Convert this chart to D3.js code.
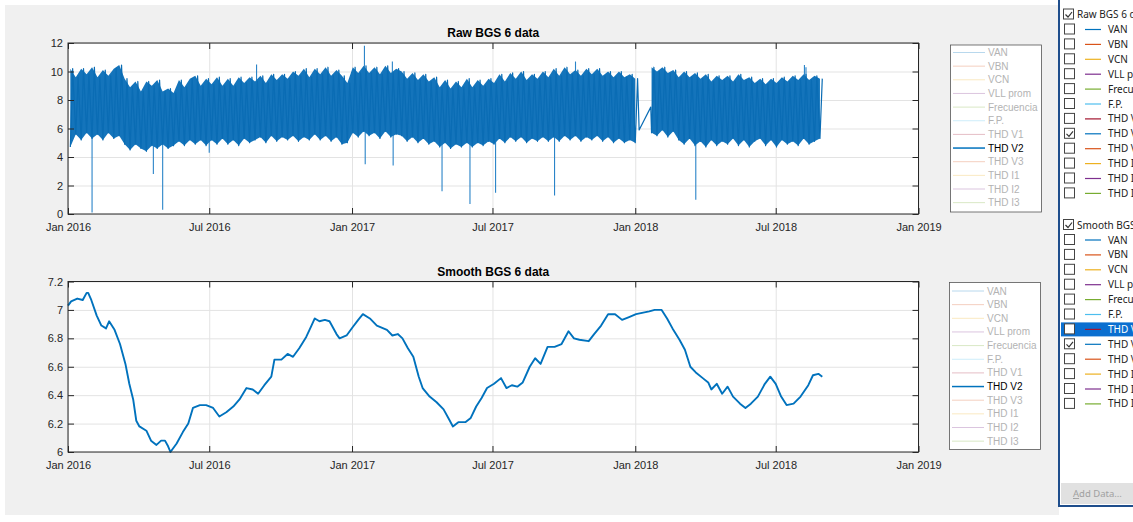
<!DOCTYPE html>
<html>
<head>
<meta charset="utf-8">
<script src="https://cdn.jsdelivr.net/npm/d3@7"></script>
<style>
  body { margin: 0; background: #fff; }
  svg { display: block; font-family: "Liberation Sans", Arial, sans-serif; }
  .grid line { stroke: #e3e3e3; }
  .grid path { display: none; }
  .ax path { display: none; }
  .ax line { stroke: #262626; }
  .ax text { fill: #262626; font-size: 11px; font-family: "Liberation Sans", Arial, sans-serif; }
</style>
</head>
<body>
<div id="chart"></div>
<script>
// ---- data ----
// raw THD V2: weekly trough (monday) and peak (thursday)
var rawLowA = [4.7, 5.6, 5.2, 5.7, 5.3, 5.6, 5.2, 5.7, 5.3, 5.5,
  4.9, 4.5, 4.9, 4.6, 4.4, 4.8, 4.6, 4.9, 4.6, 4.8,
  5.1, 4.8, 5.2, 4.9, 5.2, 4.8, 5.2, 4.9, 5.3, 4.9, 5.2, 4.8, 5.3, 5.0, 5.2,
  5.4, 5.0, 5.5, 5.1, 5.4, 5.2, 5.5, 5.1, 5.4, 5.2, 5.6, 5.2, 5.5, 5.1, 5.4,
  4.9, 5.0, 5.7, 5.4, 5.8, 5.5, 5.7, 5.3, 5.8, 5.4, 5.6,
  5.5, 5.1, 5.4, 5.0, 5.3, 4.9, 5.1, 4.7, 5.0, 4.6, 4.9, 4.7, 5.0,
  4.7, 5.0, 4.8, 5.1, 4.9, 5.3, 5.0, 5.4, 5.1, 5.4, 5.0, 5.3, 5.1, 5.4, 5.1,
  5.4, 5.1, 5.5, 5.2, 5.5, 5.1, 5.4, 5.2, 5.5, 5.1, 5.4, 5.0, 5.3, 5.0, 5.2, 5.0];
var rawHighA = [10.2, 9.6, 10.2, 9.8, 10.3, 9.6, 10.1, 9.7, 10.2, 10.45,
  9.5, 8.9, 9.3, 8.6, 9.3, 9.0, 9.4, 8.6, 8.8, 8.5,
  9.4, 8.9, 9.5, 9.7, 9.0, 9.5, 9.1, 9.6, 9.0, 9.5, 9.0, 9.6, 9.2, 9.6, 9.3,
  9.7, 9.2, 9.8, 9.4, 9.8, 9.5, 10.0, 9.7, 10.2, 9.6, 10.2, 9.8, 10.3, 9.7, 10.1,
  9.7, 9.2, 10.3, 9.9, 10.4, 9.9, 10.3, 9.8, 10.4, 9.9, 10.2,
  10.0, 9.5, 9.9, 9.4, 9.8, 9.3, 9.6, 8.9, 9.4, 8.8, 9.3, 8.9, 9.5,
  8.9, 9.4, 9.0, 9.5, 9.2, 9.8, 9.3, 9.9, 9.5, 10.0, 9.4, 9.8, 9.5, 10.0, 9.6,
  10.2, 9.7, 10.3, 9.8, 10.1, 9.7, 10.2, 9.8, 10.2, 9.7, 10.0, 9.6, 10.0, 9.6, 9.8, 9.5];
var rawLowB = [5.7, 5.5, 5.9, 5.4, 5.8, 5.2, 4.9, 5.3, 4.8, 5.1, 4.7, 5.2, 4.8, 5.1, 4.9, 5.3,
  4.8, 5.2, 4.7, 5.1, 5.3, 4.8, 5.2, 4.7, 5.2, 4.9, 5.1, 4.8, 5.3, 4.9, 5.1, 5.3];
var rawHighB = [10.3, 10.0, 10.3, 9.9, 10.1, 9.6, 10.0, 9.6, 9.9, 9.5, 9.8, 9.3, 9.7, 9.4, 9.7, 9.3,
  9.8, 9.4, 9.6, 9.2, 9.5, 9.1, 9.5, 9.2, 9.6, 9.3, 9.7, 9.4, 9.8, 9.4, 9.7, 9.5];
var rawGapDates = ['2018-01-06', '2018-01-21'];
var rawGapValues = [5.9, 7.5];
var rawSpikeDates = ['2016-02-01', '2016-04-20', '2016-05-02', '2016-07-01', '2016-08-31',
  '2017-01-17', '2017-01-18', '2017-02-22', '2017-02-23', '2017-04-27', '2017-06-02',
  '2017-07-05', '2017-09-19', '2017-10-16', '2018-03-20', '2018-08-07', '2018-08-09'];
var rawSpikeValues = [0.1, 2.8, 0.3, 4.3, 10.5, 11.8, 3.5, 10.7, 3.4, 1.6, 0.7, 1.5, 1.3, 10.7, 1.0, 10.45, 10.3];

// smoothed THD V2
var smoothDates = ['2016-01-01','2016-01-05','2016-01-13','2016-01-20','2016-01-25','2016-01-27','2016-01-31',
  '2016-02-07','2016-02-13','2016-02-19','2016-02-23','2016-03-01','2016-03-08','2016-03-15','2016-03-20',
  '2016-03-25','2016-03-29','2016-04-02','2016-04-11','2016-04-17','2016-04-24','2016-04-30','2016-05-05',
  '2016-05-09','2016-05-12','2016-05-20','2016-05-28','2016-06-04','2016-06-10','2016-06-19','2016-06-27',
  '2016-07-06','2016-07-14','2016-07-23','2016-08-01','2016-08-09','2016-08-18','2016-08-26','2016-09-02',
  '2016-09-10','2016-09-19','2016-09-23','2016-10-02','2016-10-10','2016-10-17','2016-10-25','2016-11-03',
  '2016-11-09','2016-11-14','2016-11-20','2016-11-27','2016-12-03','2016-12-12','2016-12-16','2016-12-25',
  '2017-01-02','2017-01-09','2017-01-15','2017-01-24','2017-02-02','2017-02-15','2017-02-22','2017-03-01',
  '2017-03-07','2017-03-14','2017-03-21','2017-03-28','2017-04-02','2017-04-11','2017-04-20','2017-04-29',
  '2017-05-06','2017-05-11','2017-05-18','2017-05-27','2017-06-03','2017-06-10','2017-06-17','2017-06-24',
  '2017-07-03','2017-07-12','2017-07-19','2017-07-26','2017-08-02','2017-08-09','2017-08-18','2017-08-25',
  '2017-09-01','2017-09-10','2017-09-19','2017-09-28','2017-10-07','2017-10-14','2017-10-21','2017-11-02',
  '2017-11-09','2017-11-18','2017-11-27','2017-12-06','2017-12-15','2017-12-24','2018-01-02','2018-01-19',
  '2018-01-26','2018-02-04','2018-02-11','2018-02-18','2018-02-27','2018-03-06','2018-03-13','2018-03-20',
  '2018-03-29','2018-04-05','2018-04-09','2018-04-16','2018-04-23','2018-04-30','2018-05-07','2018-05-16',
  '2018-05-23','2018-05-30','2018-06-08','2018-06-17','2018-06-24','2018-07-01','2018-07-08','2018-07-15',
  '2018-07-24','2018-08-02','2018-08-12','2018-08-18','2018-08-25','2018-08-30'];
var smoothValues = [7.03, 7.06, 7.08, 7.07, 7.12, 7.12, 7.07,
  6.96, 6.89, 6.87, 6.92, 6.86, 6.76, 6.62, 6.48,
  6.37, 6.22, 6.18, 6.15, 6.08, 6.05, 6.08, 6.08,
  6.04, 6.00, 6.06, 6.14, 6.20, 6.31, 6.33, 6.33,
  6.31, 6.25, 6.28, 6.32, 6.37, 6.45, 6.44, 6.41,
  6.47, 6.53, 6.65, 6.65, 6.69, 6.67, 6.73, 6.81,
  6.88, 6.94, 6.92, 6.93, 6.92, 6.83, 6.80, 6.82,
  6.88, 6.93, 6.97, 6.94, 6.89, 6.86, 6.82, 6.83,
  6.80, 6.73, 6.67, 6.53, 6.45, 6.39, 6.35, 6.30,
  6.23, 6.18, 6.21, 6.21, 6.24, 6.32, 6.38, 6.45,
  6.48, 6.52, 6.45, 6.47, 6.46, 6.49, 6.60, 6.66,
  6.62, 6.74, 6.74, 6.76, 6.85, 6.80, 6.79, 6.78,
  6.83, 6.89, 6.97, 6.97, 6.93, 6.95, 6.97, 6.99,
  7.00, 7.00, 6.94, 6.87, 6.79, 6.72, 6.60, 6.56,
  6.52, 6.49, 6.44, 6.48, 6.41, 6.46, 6.39, 6.34,
  6.31, 6.34, 6.39, 6.48, 6.53, 6.48, 6.39, 6.33,
  6.34, 6.39, 6.47, 6.54, 6.55, 6.53];

var rawTicks = [0, 2, 4, 6, 8, 10, 12];
var smoothTicks = [6, 6.2, 6.4, 6.6, 6.8, 7, 7.2];
var seriesNames = ['VAN', 'VBN', 'VCN', 'VLL prom', 'Frecuencia', 'F.P.', 'THD V1', 'THD V2', 'THD V3', 'THD I1', 'THD I2', 'THD I3'];
var seriesColors = ['#0072BD', '#D95319', '#EDB120', '#7E2F8E', '#77AC30', '#4DBEEE', '#A2142F', '#0072BD', '#D95319', '#EDB120', '#7E2F8E', '#77AC30'];
var shownIndex = 7; // only THD V2 is plotted

// ---- setup ----
var parse = d3.utcParse('%Y-%m-%d');
var xDomain = [parse('2016-01-01'), parse('2019-01-01')];
var xTicks = d3.utcMonth.every(6).range(xDomain[0], parse('2019-01-02'));
var left = 68, right = 918.5;

var svg = d3.select('#chart').append('svg').attr('width', 1133).attr('height', 522);
svg.append('rect').attr('x', 5).attr('y', 5).attr('width', 1054).attr('height', 510).attr('fill', '#f0f0f0');

function makeAxes(top, bottom, yDomain, yTicks, title) {
  var x = d3.scaleUtc().domain(xDomain).range([left, right]);
  var y = d3.scaleLinear().domain(yDomain).range([bottom, top]);
  var g = svg.append('g');
  g.append('rect').attr('x', left).attr('y', top).attr('width', right - left).attr('height', bottom - top).attr('fill', '#fff');
  g.append('g').attr('class', 'grid').attr('transform', 'translate(0,' + bottom + ')')
    .call(d3.axisBottom(x).tickValues(xTicks).tickSize(-(bottom - top)).tickFormat(''));
  g.append('g').attr('class', 'grid').attr('transform', 'translate(' + left + ',0)')
    .call(d3.axisLeft(y).tickValues(yTicks).tickSize(-(right - left)).tickFormat(''));
  svg.append('text').attr('x', (left + right) / 2).attr('y', top - 6).attr('text-anchor', 'middle')
    .attr('font-size', 12).attr('font-weight', 'bold').attr('fill', '#000').text(title);
  return { x: x, y: y, g: g, top: top, bottom: bottom, yTicks: yTicks };
}

function finishAxes(a) {
  var fmt = d3.utcFormat('%b %Y');
  svg.append('g').attr('class', 'ax').attr('transform', 'translate(0,' + a.bottom + ')')
    .call(d3.axisBottom(a.x).tickValues(xTicks).tickSizeInner(-6).tickSizeOuter(0).tickPadding(9).tickFormat(fmt));
  svg.append('g').attr('class', 'ax').attr('transform', 'translate(0,' + a.top + ')')
    .call(d3.axisTop(a.x).tickValues(xTicks).tickSizeInner(-6).tickSizeOuter(0).tickFormat(''));
  svg.append('g').attr('class', 'ax').attr('transform', 'translate(' + left + ',0)')
    .call(d3.axisLeft(a.y).tickValues(a.yTicks).tickSizeInner(-6).tickSizeOuter(0).tickPadding(5).tickFormat(d3.format('')));
  svg.append('g').attr('class', 'ax').attr('transform', 'translate(' + right + ',0)')
    .call(d3.axisRight(a.y).tickValues(a.yTicks).tickSizeInner(-6).tickSizeOuter(0).tickFormat(''));
  svg.append('rect').attr('x', left).attr('y', a.top).attr('width', right - left).attr('height', a.bottom - a.top)
    .attr('fill', 'none').attr('stroke', '#262626').attr('stroke-width', 1);
}

function legend(x0, y0, h, firstRow) {
  var lg = svg.append('g').attr('font-size', 10);
  lg.append('rect').attr('x', x0 + 0.5).attr('y', y0 + 0.5).attr('width', 91).attr('height', h)
    .attr('fill', '#fff').attr('stroke', '#555').attr('stroke-width', 0.8);
  seriesNames.forEach(function(n, i) {
    var yy = firstRow + i * 13.65;
    var on = i === shownIndex;
    var c = on ? seriesColors[i] : d3.interpolateRgb(seriesColors[i], '#fff')(0.72);
    lg.append('line').attr('x1', x0 + 3).attr('x2', x0 + 35).attr('y1', yy).attr('y2', yy)
      .attr('stroke', c).attr('stroke-width', on ? 1.5 : 1);
    lg.append('text').attr('x', x0 + 38).attr('y', yy + 3.5).attr('fill', on ? '#000' : '#b3b3b3').text(n);
  });
}

// ---- raw plot ----
var top1 = makeAxes(43, 214, [0, 12], rawTicks, 'Raw BGS 6 data');

var monA = d3.utcMonday.range(parse('2016-01-04'), parse('2018-01-02'));
var thuA = d3.utcThursday.range(parse('2016-01-07'), parse('2018-01-05'));
var monB = d3.utcMonday.range(parse('2018-01-22'), parse('2018-08-28'));
var thuB = d3.utcThursday.range(parse('2018-01-25'), parse('2018-08-31'));

var rawPoints = [];
monA.forEach(function(d, i) { rawPoints.push([d, rawLowA[i]], [thuA[i], rawHighA[i]]); });
rawGapDates.forEach(function(d, i) { rawPoints.push([parse(d), rawGapValues[i]]); });
monB.forEach(function(d, i) { rawPoints.push([d, rawLowB[i]], [thuB[i], rawHighB[i]]); });

var rawLine = d3.line().x(function(d) { return top1.x(d[0]); }).y(function(d) { return top1.y(d[1]); });
// weekly low..high envelope, filled
var rawArea = d3.area()
  .x(function(d) { return top1.x(d[0]); })
  .y0(function(d) { return top1.y(d[1]); })
  .y1(function(d) { return top1.y(d[2]); });
var bandA = monA.map(function(d, i) { return [d, rawLowA[i], rawHighA[i]]; });
var bandB = monB.map(function(d, i) { return [d, rawLowB[i], rawHighB[i]]; });

// isolated outliers, drawn from inside the band
rawSpikeDates.forEach(function(d, i) {
  top1.g.append('path')
    .attr('d', rawLine([[parse(d), 7], [parse(d), rawSpikeValues[i]]]))
    .attr('stroke', '#2a84c8').attr('stroke-width', 1.1).attr('fill', 'none');
});

[bandA, bandB].forEach(function(b) {
  top1.g.append('path').attr('d', rawArea(b)).attr('fill', '#1474bb');
});
top1.g.append('path').attr('d', rawLine(rawPoints))
  .attr('fill', 'none').attr('stroke', '#0a6cb4').attr('stroke-width', 1.2).attr('stroke-linejoin', 'round');
finishAxes(top1);
legend(950, 44.5, 167, 52.5);

// ---- smooth plot ----
var bot = makeAxes(281.5, 452, [6, 7.2], smoothTicks, 'Smooth BGS 6 data');
var smoothPts = smoothDates.map(function(d, i) { return [parse(d), smoothValues[i]]; });
bot.g.append('path')
  .attr('d', d3.line().x(function(d) { return bot.x(d[0]); }).y(function(d) { return bot.y(d[1]); })(smoothPts))
  .attr('fill', 'none').attr('stroke', '#0072BD').attr('stroke-width', 1.9).attr('stroke-linejoin', 'round');
finishAxes(bot);
legend(949, 282, 167, 291);

// ---- plot browser panel ----
var pb = svg.append('g').attr('font-family', '"Noto Sans", "Open Sans", sans-serif').attr('font-size', 10);
pb.append('rect').attr('x', 1059).attr('y', -3).attr('width', 80).attr('height', 509)
  .attr('fill', '#fff').attr('stroke', '#1f4e8c').attr('stroke-width', 2);
pb.append('rect').attr('x', 1061).attr('y', 483).attr('width', 72).attr('height', 21).attr('fill', '#e1e1e1');
pb.append('text').attr('x', 1073).attr('y', 497).attr('fill', '#a0a0a0').attr('font-size', 9.5)
  .html('<tspan text-decoration="underline">A</tspan>dd Data...');

function checkbox(x, y, checked) {
  pb.append('rect').attr('x', x + 0.5).attr('y', y - 5.5).attr('width', 10).attr('height', 10)
    .attr('fill', '#fff').attr('stroke', '#444').attr('stroke-width', 1);
  if (checked) {
    pb.append('path').attr('d', 'M' + (x + 2.5) + ',' + (y) + 'l2.5,2.5l4,-5')
      .attr('fill', 'none').attr('stroke', '#333').attr('stroke-width', 1.2);
  }
}

function group(headerY, label, selectedRow) {
  checkbox(1063, headerY, true);
  pb.append('text').attr('x', 1077).attr('y', headerY + 3.5).attr('fill', '#222').text(label);
  seriesNames.forEach(function(n, i) {
    var yy = headerY + 15 + i * 14.9;
    var sel = i === selectedRow;
    if (sel) pb.append('rect').attr('x', 1061).attr('y', yy - 7).attr('width', 72).attr('height', 14).attr('fill', '#0a6fd0');
    checkbox(1064, yy, i === shownIndex);
    pb.append('line').attr('x1', 1085).attr('x2', 1101).attr('y1', yy).attr('y2', yy)
      .attr('stroke', seriesColors[i]).attr('stroke-width', 1.2);
    pb.append('text').attr('x', 1108).attr('y', yy + 3.5).attr('fill', sel ? '#fff' : '#222').text(n);
  });
}
group(14.5, 'Raw BGS 6 data', -1);
group(225, 'Smooth BGS 6 data', 6);
</script>
</body>
</html>
